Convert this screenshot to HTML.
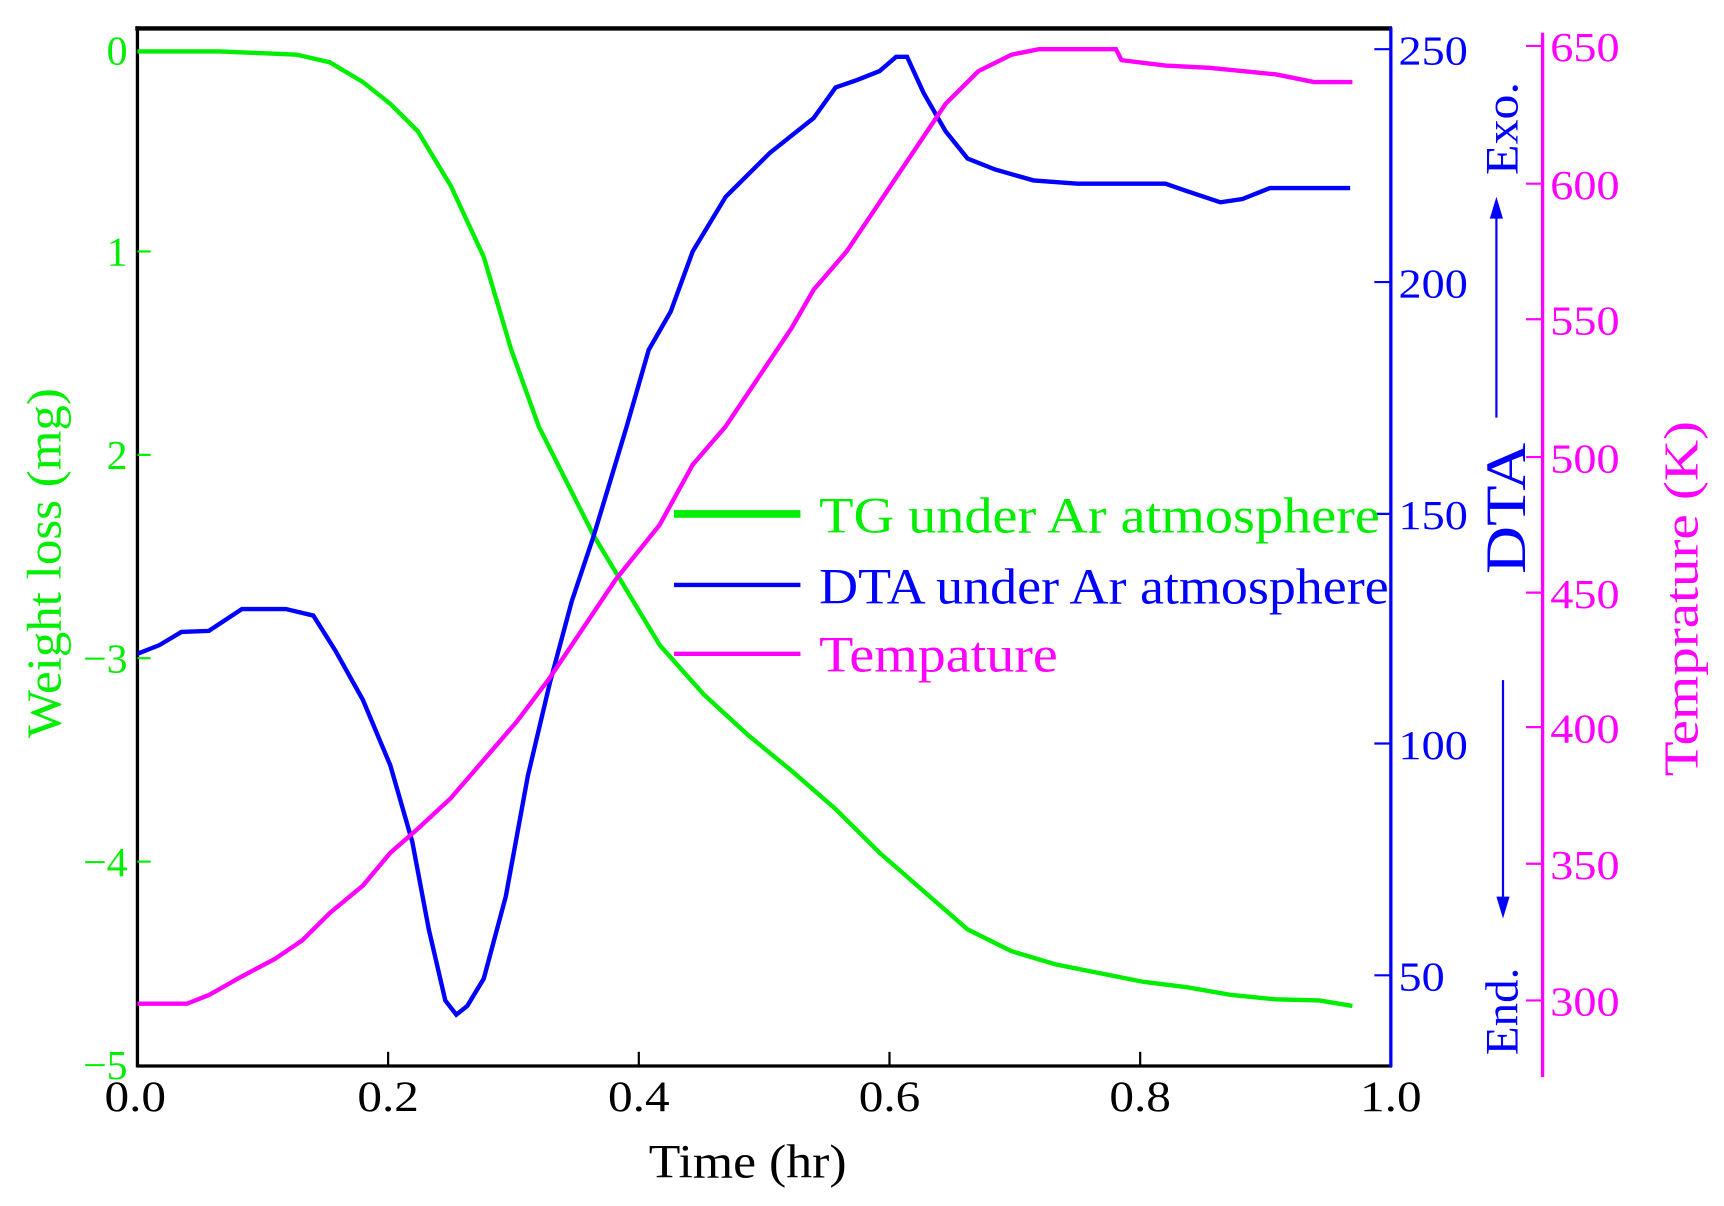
<!DOCTYPE html>
<html><head><style>
html,body{margin:0;padding:0;background:#fff;}
svg{display:block;}
text{font-family:"Liberation Serif",serif;}
</style></head><body>
<svg width="1724" height="1206" viewBox="0 0 1568 1103" preserveAspectRatio="none" xmlns="http://www.w3.org/2000/svg">
<rect width="1568" height="1103" fill="#fff"/>
<line x1="123" y1="26" x2="1266" y2="26" stroke="#000" stroke-width="4"/>
<line x1="125" y1="24" x2="125" y2="976" stroke="#000" stroke-width="3"/>
<line x1="124" y1="975" x2="1266" y2="975" stroke="#000" stroke-width="3"/>
<line x1="1265" y1="25" x2="1265" y2="976" stroke="#0000ff" stroke-width="3"/>
<line x1="1403" y1="30" x2="1403" y2="985" stroke="#ff00ff" stroke-width="3"/>
<g stroke="#000" stroke-width="2">
<line x1="353" y1="975" x2="353" y2="962"/><line x1="581" y1="975" x2="581" y2="962"/>
<line x1="809" y1="975" x2="809" y2="962"/><line x1="1037" y1="975" x2="1037" y2="962"/>
</g>
<g font-size="40" fill="#000" text-anchor="middle">
<text x="123" y="1016" textLength="56" lengthAdjust="spacingAndGlyphs">0.0</text><text x="353" y="1016" textLength="56" lengthAdjust="spacingAndGlyphs">0.2</text><text x="581" y="1016" textLength="56" lengthAdjust="spacingAndGlyphs">0.4</text>
<text x="809" y="1016" textLength="56" lengthAdjust="spacingAndGlyphs">0.6</text><text x="1037" y="1016" textLength="56" lengthAdjust="spacingAndGlyphs">0.8</text><text x="1265" y="1016" textLength="56" lengthAdjust="spacingAndGlyphs">1.0</text>
</g>
<text x="590" y="1077" font-size="44" textLength="180" lengthAdjust="spacingAndGlyphs" fill="#000">Time (hr)</text>
<g stroke="#00ee00" stroke-width="2">
<line x1="125" y1="47" x2="137" y2="47"/><line x1="125" y1="230" x2="137" y2="230"/>
<line x1="125" y1="416" x2="137" y2="416"/><line x1="125" y1="602" x2="137" y2="602"/>
<line x1="125" y1="788" x2="137" y2="788"/>
</g>
<g font-size="38" fill="#00ee00" text-anchor="end">
<text x="116" y="59">0</text><text x="116" y="243">1</text><text x="116" y="429">2</text>
<text x="116" y="615">−3</text><text x="116" y="801">−4</text><text x="116" y="987">−5</text>
</g>
<text transform="translate(55,675) rotate(-90)" font-size="44" fill="#00ee00" textLength="320" lengthAdjust="spacingAndGlyphs">Weight loss (mg)</text>
<g stroke="#0000ff" stroke-width="2">
<line x1="1250" y1="45" x2="1265" y2="45"/><line x1="1250" y1="258" x2="1265" y2="258"/>
<line x1="1250" y1="470" x2="1265" y2="470"/><line x1="1250" y1="680" x2="1265" y2="680"/>
<line x1="1250" y1="892" x2="1265" y2="892"/>
</g>
<g font-size="38" fill="#0000ff">
<text x="1272" y="59" textLength="63" lengthAdjust="spacingAndGlyphs">250</text><text x="1272" y="272" textLength="63" lengthAdjust="spacingAndGlyphs">200</text><text x="1272" y="484" textLength="63" lengthAdjust="spacingAndGlyphs">150</text>
<text x="1272" y="694" textLength="63" lengthAdjust="spacingAndGlyphs">100</text><text x="1272" y="906" textLength="42" lengthAdjust="spacingAndGlyphs">50</text>
</g>
<text transform="translate(1387,525) rotate(-90)" font-size="52" fill="#0000ff" textLength="120" lengthAdjust="spacingAndGlyphs">DTA</text>
<text transform="translate(1380,160) rotate(-90)" font-size="42" fill="#0000ff" textLength="85" lengthAdjust="spacingAndGlyphs">Exo.</text>
<text transform="translate(1380,965) rotate(-90)" font-size="42" fill="#0000ff" textLength="80" lengthAdjust="spacingAndGlyphs">End.</text>
<line x1="1361" y1="382" x2="1361" y2="195" stroke="#0000ff" stroke-width="2"/>
<polygon points="1361,180 1355,200 1367,200" fill="#0000ff"/>
<line x1="1367" y1="622" x2="1367" y2="822" stroke="#0000ff" stroke-width="2"/>
<polygon points="1367,840 1361,820 1373,820" fill="#0000ff"/>
<g stroke="#ff00ff" stroke-width="2">
<line x1="1388" y1="42" x2="1403" y2="42"/><line x1="1388" y1="168" x2="1403" y2="168"/>
<line x1="1388" y1="292" x2="1403" y2="292"/><line x1="1388" y1="418" x2="1403" y2="418"/>
<line x1="1388" y1="542" x2="1403" y2="542"/><line x1="1388" y1="665" x2="1403" y2="665"/>
<line x1="1388" y1="790" x2="1403" y2="790"/><line x1="1388" y1="915" x2="1403" y2="915"/>
</g>
<g font-size="38" fill="#ff00ff">
<text x="1410" y="56" textLength="63" lengthAdjust="spacingAndGlyphs">650</text><text x="1410" y="182" textLength="63" lengthAdjust="spacingAndGlyphs">600</text><text x="1410" y="306" textLength="63" lengthAdjust="spacingAndGlyphs">550</text>
<text x="1410" y="432" textLength="63" lengthAdjust="spacingAndGlyphs">500</text><text x="1410" y="556" textLength="63" lengthAdjust="spacingAndGlyphs">450</text><text x="1410" y="679" textLength="63" lengthAdjust="spacingAndGlyphs">400</text>
<text x="1410" y="804" textLength="63" lengthAdjust="spacingAndGlyphs">350</text><text x="1410" y="929" textLength="63" lengthAdjust="spacingAndGlyphs">300</text>
</g>
<text transform="translate(1544,710) rotate(-90)" font-size="44" fill="#ff00ff" textLength="325" lengthAdjust="spacingAndGlyphs">Temprature (K)</text>
<polyline fill="none" stroke="#00ee00" stroke-width="4" points="125,47 200,47 270,50 300,57 330,75 355,95 380,120 410,170 440,235 465,320 490,390 515,440 540,490 570,540 600,590 640,635 680,672 720,705 760,740 800,780 840,815 880,850 920,870 960,882 1000,890 1040,898 1080,903 1120,910 1160,914 1200,915 1230,920"/>
<polyline fill="none" stroke="#0000ff" stroke-width="4" points="125,598 145,590 165,578 190,577 220,557 260,557 285,563 305,595 330,640 355,700 375,770 390,850 405,915 415,928 425,920 440,895 460,820 480,710 500,625 520,550 540,490 555,440 570,390 590,320 610,285 630,230 660,180 700,140 740,108 760,80 780,73 800,65 815,52 825,52 840,85 860,120 880,145 905,155 940,165 980,168 1060,168 1080,175 1110,185 1130,182 1155,172 1228,172"/>
<polyline fill="none" stroke="#ff00ff" stroke-width="4" points="125,918 170,918 190,910 220,893 250,877 275,860 300,835 330,810 355,780 380,758 410,730 440,695 470,660 500,620 530,575 560,530 600,480 630,425 660,390 690,345 720,300 740,265 770,230 800,185 830,140 860,95 890,65 920,50 945,45 1015,45 1020,55 1060,60 1100,62 1160,68 1195,75 1230,75"/>
<line x1="613" y1="470" x2="728" y2="470" stroke="#00ee00" stroke-width="7"/>
<line x1="613" y1="535" x2="728" y2="535" stroke="#0000ff" stroke-width="4"/>
<line x1="613" y1="598" x2="728" y2="598" stroke="#ff00ff" stroke-width="4"/>
<g font-size="46">
<text x="745" y="487" fill="#00ee00" textLength="510" lengthAdjust="spacingAndGlyphs">TG under Ar atmosphere</text>
<text x="745" y="552" fill="#0000ff" textLength="518" lengthAdjust="spacingAndGlyphs">DTA under Ar atmosphere</text>
<text x="745" y="614" fill="#ff00ff" textLength="217" lengthAdjust="spacingAndGlyphs">Tempature</text>
</g>
</svg>
</body></html>
